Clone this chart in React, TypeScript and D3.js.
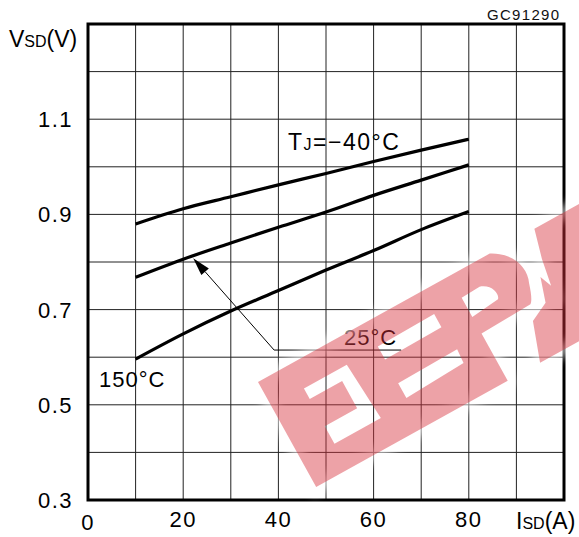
import * as d3 from "d3";

const W = 579;
const H = 537;

// curves: IS(A) vs VSD(V)
const isd = [10, 20, 30, 40, 50, 60, 70, 80];
const vMinus40 = [0.88, 0.912, 0.937, 0.962, 0.986, 1.011, 1.035, 1.058];
const v25 = [0.768, 0.806, 0.84, 0.873, 0.905, 0.94, 0.972, 1.004];
const v150 = [0.596, 0.649, 0.697, 0.74, 0.783, 0.824, 0.868, 0.906];

const xTicks = [0, 20, 40, 60, 80];
const yTicks = [0.3, 0.5, 0.7, 0.9, 1.1];

const x = d3.scaleLinear().domain([0, 100]).range([88, 564]);
const y = d3.scaleLinear().domain([0.3, 1.3]).range([500, 24]);

const line = d3
  .line<[number, number]>()
  .x((d) => x(d[0]))
  .y((d) => y(d[1]))
  .curve(d3.curveMonotoneX);

const FONT = "'Liberation Sans', Arial, sans-serif";

// watermark, drawn in its own rotated frame
const markOuter =
  "M0,0 L265,0 C285,10 292,30 285,45 C282,55 279,62 276,64 L219,66 L219,120 L0,120 Z";
const markHoles =
  "M37,28 L86,28 L90,91 L37,91 L37,71 L74,71 L74,40 L37,40 Z " +
  "M122,27 L187,26 L187,41 L122,42 Z " +
  "M122,69 L190,68 L189,83 L122,86 Z " +
  "M219,25 L240,24 C252,28 254,40 250,44 L219,47 Z";
const markM =
  "M316,0 L470,0 L470,120 L256,120 L270,80 L290,70 L298,45 L303,58 L308,30 Z";

export default function App() {
  const grids = d3.range(10, 100, 10);
  const gridsY = d3.range(4, 13).map((d) => d / 10);

  const tip: [number, number] = [22.1, 0.808];
  const elbow: [number, number] = [39.1, 0.615];
  const end: [number, number] = [65.8, 0.615];
  const ang = Math.atan2(y(tip[1]) - y(elbow[1]), x(tip[0]) - x(elbow[0]));
  const ah = 18;
  const aw = 5;
  const tx = x(tip[0]);
  const ty = y(tip[1]);
  const bx = tx - ah * Math.cos(ang);
  const by = ty - ah * Math.sin(ang);
  const head = `M${tx},${ty} L${bx + aw * Math.sin(ang)},${by - aw * Math.cos(ang)} L${bx - aw * Math.sin(ang)},${by + aw * Math.cos(ang)} Z`;

  return (
    <svg
      width={W}
      height={H}
      style={{ position: "absolute", left: 0, top: 0, background: "#fff" }}
      fontFamily={FONT}
    >
      <defs>
        <filter id="halo" x="-20%" y="-20%" width="140%" height="140%">
          <feGaussianBlur stdDeviation="4" />
        </filter>
      </defs>

      {/* grid */}
      {grids.map((g) => (
        <line key={"gx" + g} x1={x(g)} x2={x(g)} y1={y(1.3)} y2={y(0.3)} stroke="#222" strokeWidth={1} />
      ))}
      {gridsY.map((g) => (
        <line key={"gy" + g} x1={x(0)} x2={x(100)} y1={y(g)} y2={y(g)} stroke="#222" strokeWidth={1} />
      ))}
      <rect x={x(0)} y={y(1.3)} width={x(100) - x(0)} height={y(0.3) - y(1.3)} fill="none" stroke="#000" strokeWidth={3} />

      {/* curves */}
      {[vMinus40, v25, v150].map((vals, i) => (
        <path
          key={i}
          d={line(isd.map((v, j) => [v, vals[j]] as [number, number])) || ""}
          fill="none"
          stroke="#000"
          strokeWidth={3.2}
        />
      ))}

      {/* tick labels */}
      {yTicks.map((t) => (
        <text key={"yt" + t} x={73} y={y(t) + 8} textAnchor="end" fontSize={22} letterSpacing={1.5}>
          {t.toFixed(1)}
        </text>
      ))}
      {xTicks.map((t) => (
        <text key={"xt" + t} x={x(t)} y={t === 0 ? 530 : 527} textAnchor="middle" fontSize={22} letterSpacing={1.5}>
          {t}
        </text>
      ))}

      {/* axis titles */}
      <text x={9} y={47} fontSize={23}>
        V<tspan fontSize={16}>SD</tspan>
        <tspan>(V)</tspan>
      </text>
      <text x={516} y={529} fontSize={23}>
        I<tspan fontSize={16}>SD</tspan>
        <tspan>(A)</tspan>
      </text>
      <text x={487} y={20} fontSize={15} letterSpacing={1.3} fill="#111">
        GC91290
      </text>

      {/* annotations */}
      <text x={288} y={150} fontSize={23} letterSpacing={1.5}>
        T<tspan fontSize={16}>J</tspan>
        <tspan>=−40°C</tspan>
      </text>
      <text x={99} y={387} fontSize={22} letterSpacing={1}>
        150°C
      </text>
      <text x={344} y={345} fontSize={22} letterSpacing={1}>
        25°C
      </text>
      <path
        d={`M${x(end[0])},${y(end[1])} L${x(elbow[0])},${y(elbow[1])} L${bx},${by}`}
        fill="none"
        stroke="#000"
        strokeWidth={1}
      />
      <path d={head} fill="#000" />

      {/* watermark */}
      <g transform="translate(258,382) rotate(-29)">
        <path d={markOuter + " " + markM} fill="none" stroke="#fff" strokeWidth={14} opacity={0.55} filter="url(#halo)" />
        <path d={markOuter + " " + markHoles} fillRule="evenodd" fill="#d8303c" opacity={0.45} />
        <path d={markM} fill="#d8303c" opacity={0.45} />
      </g>
    </svg>
  );
}
